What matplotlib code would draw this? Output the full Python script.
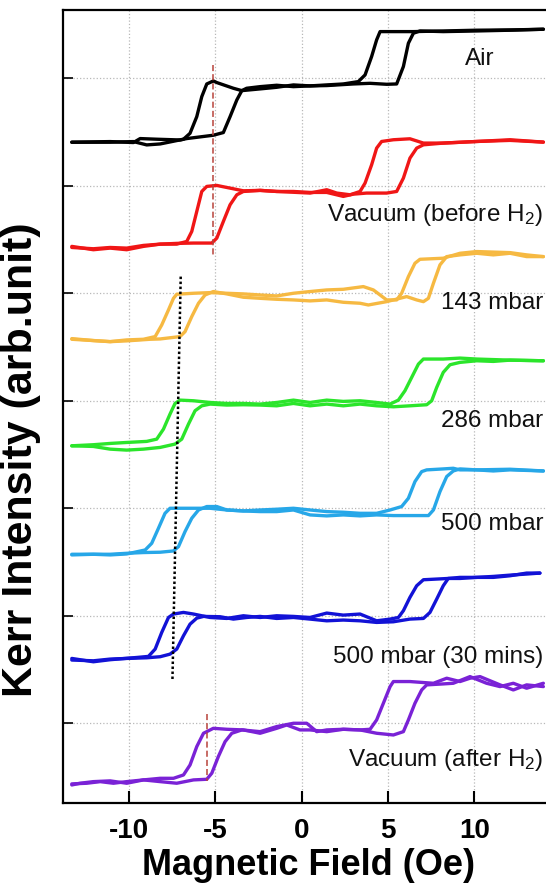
import matplotlib
matplotlib.use("Agg")
import matplotlib.pyplot as plt

plt.rcParams['font.family'] = ['Liberation Sans', 'DejaVu Sans']
plt.rcParams['mathtext.default'] = 'regular'

# field (Oe) and relative Kerr signal for each loop, sweep-up and sweep-down branches
air_up_x = [-13.32, -11.10, -9.75, -9.36, -8.40, -7.05, -6.66, -5.12, -4.54, -4.15, -3.76, -3.47, -3.19, -2.41, -1.45,
            -0.48, 0.48, 1.45, 2.99, 3.96, 4.92, 5.50, 5.89, 6.18, 6.47, 6.85, 8.20, 10.14, 12.07, 14.00]
air_up_y = [-0.595, -0.589, -0.598, -0.561, -0.567, -0.574, -0.561, -0.530, -0.505, -0.357, -0.202, -0.115, -0.093,
            -0.078, -0.065, -0.078, -0.071, -0.068, -0.053, -0.047, -0.056, -0.053, 0.109, 0.326, 0.419, 0.440, 0.434,
            0.440, 0.447, 0.456]
air_dn_x = [14.00, 12.26, 10.14, 8.20, 6.47, 4.54, 4.34, 4.05, 3.67, 3.28, 2.41, 0.48, -0.48, -1.45, -2.41, -3.47,
            -3.96, -4.92, -5.12, -5.50, -5.79, -6.08, -6.47, -6.85, -8.20, -8.98, -9.75, -11.10, -13.32]
air_dn_y = [0.456, 0.450, 0.447, 0.440, 0.434, 0.434, 0.357, 0.202, 0.031, -0.031, -0.053, -0.071, -0.062, -0.084,
            -0.099, -0.115, -0.093, -0.040, -0.025, -0.053, -0.171, -0.357, -0.512, -0.567, -0.611, -0.620, -0.589,
            -0.595, -0.595]

vac1_up_x = [-13.32, -12.07, -11.10, -10.14, -9.17, -8.20, -7.24, -6.27, -5.21, -4.92, -4.54, -4.15, -3.76, -3.38,
             -2.41, -1.45, -0.48, 0.48, 1.45, 2.41, 2.99, 3.76, 4.92, 5.50, 5.89, 6.27, 6.66, 7.05, 8.20, 10.14,
             12.07, 14.00]
vac1_up_y = [-0.574, -0.586, -0.574, -0.580, -0.555, -0.543, -0.536, -0.533, -0.533, -0.487, -0.332, -0.177, -0.084,
             -0.053, -0.043, -0.053, -0.053, -0.062, -0.062, -0.099, -0.078, -0.068, -0.068, -0.053, 0.071, 0.257,
             0.350, 0.381, 0.397, 0.412, 0.428, 0.406]
vac1_dn_x = [14.00, 12.07, 10.14, 8.20, 7.05, 6.27, 5.31, 4.63, 4.34, 4.05, 3.67, 3.38, 2.80, 2.03, 1.45, 0.48,
             -1.45, -2.41, -3.38, -4.92, -5.50, -5.79, -6.08, -6.37, -6.66, -7.24, -8.20, -9.17, -10.14, -11.10,
             -12.07, -13.32]
vac1_dn_y = [0.406, 0.422, 0.412, 0.397, 0.397, 0.437, 0.428, 0.412, 0.350, 0.195, 0.025, -0.053, -0.084, -0.068,
             -0.037, -0.068, -0.053, -0.043, -0.047, 0.003, -0.006, -0.053, -0.239, -0.425, -0.518, -0.543, -0.543,
             -0.564, -0.595, -0.580, -0.595, -0.564]

p143_up_x = [-13.32, -12.07, -11.10, -10.14, -8.78, -8.20, -7.05, -6.76, -6.37, -5.98, -5.60, -5.12, -4.34, -3.38,
             -2.41, -1.45, -0.48, 0.48, 1.45, 2.41, 3.38, 3.86, 4.92, 6.08, 6.66, 7.05, 7.34, 7.63, 8.01, 8.40, 9.17,
             10.14, 11.10, 12.07, 13.03, 14.00]
p143_up_y = [-0.428, -0.440, -0.450, -0.443, -0.428, -0.425, -0.403, -0.357, -0.217, -0.093, -0.016, 0.016, -0.006,
             -0.037, -0.047, -0.056, -0.062, -0.071, -0.062, -0.084, -0.093, -0.109, -0.078, -0.031, -0.062, -0.078,
             -0.047, 0.093, 0.264, 0.341, 0.357, 0.372, 0.357, 0.372, 0.341, 0.341]
p143_dn_x = [14.00, 13.03, 12.07, 10.14, 9.17, 8.20, 6.85, 6.56, 6.18, 5.79, 5.50, 4.92, 4.15, 3.57, 2.41, 1.45,
             0.48, -0.48, -1.45, -2.41, -3.38, -4.34, -5.31, -6.27, -7.24, -7.43, -7.72, -8.11, -8.49, -9.17, -10.14,
             -11.10, -12.07, -13.32]
p143_dn_y = [0.341, 0.357, 0.378, 0.388, 0.372, 0.326, 0.316, 0.279, 0.155, 0.000, -0.062, -0.062, 0.031, 0.062,
             0.037, 0.031, 0.016, 0.000, -0.025, -0.016, -0.006, 0.000, 0.006, 0.000, -0.009, -0.047, -0.155, -0.295,
             -0.403, -0.428, -0.434, -0.450, -0.440, -0.422]

p286_up_x = [-13.32, -12.07, -11.10, -10.14, -9.17, -8.20, -7.34, -6.95, -6.56, -6.18, -5.79, -5.31, -4.34, -3.38,
             -2.41, -1.45, -0.48, 0.48, 1.45, 2.41, 3.38, 4.34, 5.31, 6.27, 7.24, 7.53, 7.82, 8.20, 8.59, 9.17, 10.14,
             11.10, 12.07, 14.00]
p286_up_y = [-0.419, -0.425, -0.450, -0.459, -0.450, -0.434, -0.403, -0.357, -0.217, -0.093, -0.047, -0.031, -0.040,
             -0.037, -0.040, -0.047, -0.025, -0.047, -0.031, -0.047, -0.031, -0.047, -0.056, -0.047, -0.037, 0.000,
             0.124, 0.264, 0.335, 0.357, 0.372, 0.366, 0.378, 0.372]
p286_dn_x = [14.00, 12.07, 10.14, 9.17, 8.20, 7.05, 6.76, 6.37, 5.98, 5.60, 5.12, 4.34, 3.38, 2.41, 1.45, 0.48,
             -0.48, -1.45, -2.41, -3.38, -4.34, -5.31, -6.27, -7.05, -7.34, -7.63, -8.01, -8.40, -8.98, -10.14,
             -11.10, -12.07, -13.32]
p286_dn_y = [0.372, 0.378, 0.388, 0.397, 0.388, 0.388, 0.341, 0.217, 0.093, 0.006, -0.031, -0.016, 0.000, -0.006,
             0.006, -0.016, 0.006, -0.016, -0.031, -0.025, -0.025, -0.016, 0.000, 0.006, -0.025, -0.124, -0.264,
             -0.357, -0.378, -0.388, -0.397, -0.409, -0.419]

p500_up_x = [-13.32, -12.07, -11.10, -10.14, -9.17, -8.20, -7.43, -7.14, -6.76, -6.37, -5.98, -5.50, -4.92, -4.34,
             -3.38, -2.41, -1.45, -0.48, 0.48, 1.45, 2.41, 3.38, 4.34, 5.31, 6.27, 7.34, 7.63, 8.01, 8.40, 8.78, 9.17,
             10.14, 11.10, 12.07, 14.00]
p500_up_y = [-0.428, -0.428, -0.428, -0.419, -0.412, -0.409, -0.397, -0.357, -0.217, -0.093, -0.016, 0.016, 0.016,
             -0.016, -0.025, -0.031, -0.031, -0.016, -0.062, -0.071, -0.062, -0.071, -0.062, -0.068, -0.068, -0.068,
             -0.016, 0.155, 0.295, 0.347, 0.366, 0.357, 0.347, 0.357, 0.347]
p500_dn_x = [14.00, 12.07, 10.14, 9.17, 8.78, 8.20, 7.24, 6.95, 6.56, 6.18, 5.79, 5.12, 4.34, 3.38, 2.41, 1.45,
             0.48, -0.48, -1.45, -2.41, -3.38, -4.34, -5.31, -6.27, -7.63, -7.92, -8.30, -8.69, -9.07, -10.14,
             -11.10, -12.07, -13.32]
p500_dn_y = [0.347, 0.363, 0.357, 0.357, 0.372, 0.366, 0.357, 0.341, 0.248, 0.093, 0.016, -0.016, -0.047, -0.047,
             -0.037, -0.031, -0.016, 0.000, -0.009, -0.016, -0.025, -0.016, 0.000, 0.000, 0.000, -0.047, -0.186,
             -0.326, -0.388, -0.425, -0.434, -0.428, -0.434]

p500b_up_x = [-13.32, -12.07, -11.10, -10.14, -8.98, -8.20, -7.63, -7.24, -6.85, -6.47, -6.08, -5.69, -4.73, -3.96,
              -3.19, -2.41, -1.45, -0.48, 0.48, 1.45, 2.41, 3.38, 4.34, 5.31, 6.27, 7.05, 7.43, 7.82, 8.20, 8.49,
              9.17, 10.14, 11.10, 12.07, 13.03, 13.80]
p500b_up_y = [-0.412, -0.419, -0.403, -0.397, -0.391, -0.381, -0.357, -0.310, -0.186, -0.078, -0.022, -0.006, -0.009,
              -0.031, -0.016, -0.006, -0.025, -0.016, -0.031, -0.047, -0.040, -0.047, -0.062, -0.056, -0.031, -0.025,
              0.031, 0.155, 0.279, 0.347, 0.357, 0.357, 0.357, 0.372, 0.397, 0.397]
p500b_dn_x = [13.80, 13.03, 12.07, 11.10, 10.14, 9.17, 8.49, 7.05, 6.66, 6.27, 5.89, 5.60, 5.12, 4.34, 3.38, 2.41,
              1.45, 0.48, -0.48, -1.45, -2.41, -3.38, -4.34, -5.31, -6.27, -6.85, -7.43, -7.72, -8.11, -8.49, -8.88,
              -9.56, -11.10, -12.07, -13.32]
p500b_dn_y = [0.397, 0.388, 0.378, 0.366, 0.357, 0.347, 0.347, 0.335, 0.279, 0.171, 0.047, -0.016, -0.031, -0.047,
              0.016, 0.006, 0.025, -0.016, -0.006, 0.000, -0.016, 0.000, -0.025, -0.016, 0.016, 0.031, 0.016, -0.016,
              -0.155, -0.310, -0.378, -0.388, -0.409, -0.428, -0.397]

vac2_up_x = [-13.32, -12.45, -11.68, -10.91, -10.14, -9.17, -8.20, -7.24, -6.27, -5.50, -5.21, -4.83, -4.44, -4.05,
             -3.47, -2.41, -1.45, -0.48, 0.29, 0.87, 1.45, 2.41, 3.38, 4.34, 5.31, 5.89, 6.18, 6.56, 6.95, 7.24, 8.20,
             8.78, 9.75, 10.71, 11.49, 12.26, 13.03, 14.00]
vac2_up_y = [-0.564, -0.558, -0.543, -0.558, -0.543, -0.527, -0.543, -0.558, -0.527, -0.521, -0.465, -0.310, -0.171,
             -0.093, -0.062, -0.078, -0.031, 0.000, 0.000, -0.078, -0.062, -0.056, -0.062, -0.093, -0.109, -0.078,
             0.031, 0.186, 0.310, 0.357, 0.366, 0.372, 0.434, 0.372, 0.341, 0.372, 0.326, 0.372]
vac2_dn_x = [14.00, 13.03, 12.26, 11.49, 10.33, 9.75, 9.17, 8.40, 7.63, 6.27, 5.31, 5.12, 4.73, 4.34, 3.96, 3.38,
             2.41, 1.45, 0.48, -0.10, -0.87, -1.45, -2.41, -3.38, -4.34, -5.12, -5.50, -5.69, -6.08, -6.47, -6.85,
             -7.43, -8.20, -9.17, -10.14, -11.10, -12.07, -12.84, -13.32]
vac2_dn_y = [0.341, 0.357, 0.310, 0.357, 0.434, 0.419, 0.388, 0.419, 0.372, 0.388, 0.388, 0.341, 0.186, 0.031,
             -0.056, -0.062, -0.056, -0.078, -0.062, -0.062, -0.016, -0.047, -0.093, -0.062, -0.056, -0.047, -0.078,
             -0.093, -0.217, -0.388, -0.481, -0.512, -0.512, -0.527, -0.558, -0.536, -0.543, -0.558, -0.574]

labels = ['Air', 'Vacuum (before H$_2$)', '143 mbar', '286 mbar', '500 mbar', '500 mbar (30 mins)',
          'Vacuum (after H$_2$)']
colors = ['#000000', '#f01616', '#f6b942', '#2be52b', '#27a7e8', '#1212d6', '#7a22d6']
offsets = [7, 6, 5, 4, 3, 2, 1]
loops = [(air_up_x, air_up_y, air_dn_x, air_dn_y),
         (vac1_up_x, vac1_up_y, vac1_dn_x, vac1_dn_y),
         (p143_up_x, p143_up_y, p143_dn_x, p143_dn_y),
         (p286_up_x, p286_up_y, p286_dn_x, p286_dn_y),
         (p500_up_x, p500_up_y, p500_dn_x, p500_dn_y),
         (p500b_up_x, p500b_up_y, p500b_dn_x, p500b_dn_y),
         (vac2_up_x, vac2_up_y, vac2_dn_x, vac2_dn_y)]
label_pos = [(10.33, 7.18), (13.98, 5.73), (13.98, 4.91), (13.98, 3.81), (13.98, 2.85), (13.98, 1.62), (13.98, 0.66)]

# guide lines at the coercive field
red_guides = [([-5.14, -5.14], [7.12, 5.34]), ([-5.50, -5.50], [1.09, 0.46])]
black_guide = ([-7.01, -7.49], [5.155, 1.40])

fig = plt.figure(figsize=(5.46, 8.88), dpi=100)
ax = fig.add_axes([63 / 546, 1 - 802.7 / 888, 489 / 546, 792.7 / 888])

for (ux, uy, dx, dy), c, off in zip(loops, colors, offsets):
    ax.plot(ux, [v + off for v in uy], color=c, lw=2.4, solid_joinstyle='round', solid_capstyle='round')
    ax.plot(dx, [v + off for v in dy], color=c, lw=2.4, solid_joinstyle='round', solid_capstyle='round')

for gx, gy in red_guides:
    ax.plot(gx, gy, color='#b8423a', lw=1.1, linestyle=(0, (4, 2)))
ax.plot(black_guide[0], black_guide[1], color='black', lw=1.8, linestyle=(0, (1, 1)))

for (tx, ty), lab in zip(label_pos, labels):
    ha = 'center' if lab == 'Air' else 'right'
    ax.text(tx, ty, lab, fontsize=17.5, ha=ha, va='center', color='#111111')

ax.set_xlim(-13.83, 14.50)
ax.set_ylim(0.261, 7.635)
ax.set_xticks([-10, -5, 0, 5, 10])
ax.set_xticklabels(['-10', '-5', '0', '5', '10'], fontsize=20, fontweight='bold')
ax.set_yticks(range(1, 8))
ax.set_yticklabels([])
ax.tick_params(axis='x', direction='in', length=9, width=1.5, pad=11)
ax.tick_params(axis='y', direction='in', length=7, width=1.2)
ax.grid(True, color='#b8b8b8', linestyle=':', lw=0.9)
ax.set_axisbelow(True)
for s in ax.spines.values():
    s.set_linewidth(1.6)

fig.text(308 / 546, 1 - 865 / 888, 'Magnetic Field (Oe)', fontsize=26, fontweight='bold', ha='center', va='center')
fig.text(21 / 546, 1 - 460 / 888, 'Kerr Intensity (arb.unit)', fontsize=31, fontweight='bold', rotation=90,
         ha='center', va='center')

fig.savefig('out.png', dpi=100)
